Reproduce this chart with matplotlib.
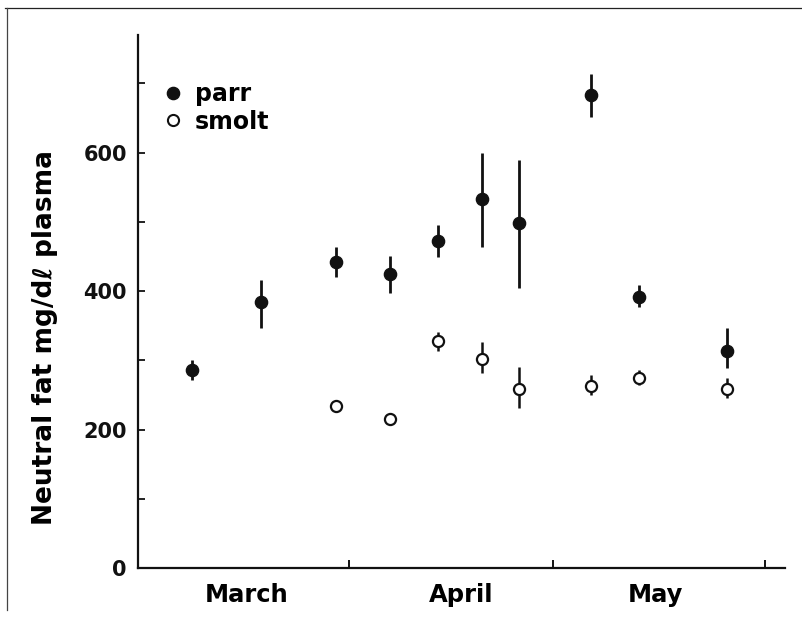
import numpy as np
import matplotlib
matplotlib.use("Agg")
import matplotlib.pyplot as plt
from matplotlib.lines import Line2D

# --- data (days counted from 1 March) ---
parr_day  = [8, 18, 29, 37, 44, 50.5, 56, 66.5, 73.5, 86.5]
parr_mean = [286, 385, 442, 425, 473, 533, 499, 684, 392, 314]
parr_lo   = [271, 347, 421, 398, 450, 464, 405, 652, 377, 289]
parr_hi   = [301, 416, 464, 451, 496, 600, 590, 713, 409, 347]

smolt_day  = [29, 37, 44, 50.5, 56, 66.5, 73.5, 86.5]
smolt_mean = [234, 215, 328, 302, 259, 263, 275, 259]
smolt_lo   = [234, 215, 314, 282, 231, 250, 265, 246]
smolt_hi   = [234, 215, 341, 327, 291, 279, 286, 275]

month_pos    = [16, 47.5, 76]
month_labels = ["March", "April", "May"]
month_bounds = [31, 61, 92]
y_major = [0, 200, 400, 600]
y_minor = [100, 300, 500, 700]

W, H = 803, 630
fig = plt.figure(figsize=(W/100, H/100), dpi=100)
ax = fig.add_axes([138/W, 1-568/H, (785-138)/W, (568-35)/H])

def yerr(mean, lo, hi):
    m = np.array(mean, float)
    return np.vstack([m-np.array(lo, float), np.array(hi, float)-m])

ax.errorbar(parr_day, parr_mean, yerr=yerr(parr_mean, parr_lo, parr_hi),
            fmt="o", color="#111111", ms=8.8, elinewidth=2.0, capsize=0, zorder=3)
ax.errorbar(smolt_day, smolt_mean, yerr=yerr(smolt_mean, smolt_lo, smolt_hi),
            fmt="o", color="#111111", mfc="white", mec="#111111", mew=1.6,
            ms=8.0, elinewidth=1.8, capsize=0, zorder=3)

ax.set_xlim(0, 95)
ax.set_ylim(0, 770)
for s in ["top", "right"]:
    ax.spines[s].set_visible(False)
for s in ["left", "bottom"]:
    ax.spines[s].set_linewidth(1.6)
    ax.spines[s].set_color("#111111")

ax.set_yticks(y_major)
ax.set_yticks(y_minor, minor=True)
ax.set_yticklabels([str(v) for v in y_major], fontsize=15, fontweight="bold")
ax.tick_params(axis="y", which="both", direction="in", length=5, width=1.3, pad=8, colors="#111111")

ax.set_xticks(month_bounds)
ax.set_xticklabels([])
ax.set_xticks(month_pos, minor=True)
ax.set_xticklabels(month_labels, minor=True, fontsize=17.5, fontweight="bold")
ax.tick_params(axis="x", which="major", direction="in", length=6, width=1.3)
ax.tick_params(axis="x", which="minor", length=0, pad=11)

ax.set_ylabel("Neutral fat mg/dℓ plasma", fontsize=19, fontweight="bold")
ax.yaxis.set_label_coords(-0.124, 0.433)

handles = [Line2D([], [], ls="none", marker="o", color="#111111", ms=8.8),
           Line2D([], [], ls="none", marker="o", mfc="white", mec="#111111", mew=1.5, ms=8.0)]
leg = ax.legend(handles, ["parr", "smolt"], loc="upper left", frameon=False,
                bbox_to_anchor=(164/W, 1-82/H), bbox_transform=fig.transFigure,
                prop={"size": 17, "weight": "bold"}, handlelength=0.8, handletextpad=0.5,
                labelspacing=0.15, borderpad=0, borderaxespad=0)

# scanned page frame
fig.add_artist(Line2D([5/W, 1], [1-8/H, 1-8/H], transform=fig.transFigure, color="#222222", lw=0.9))
fig.add_artist(Line2D([7/W, 7/W], [1-8/H, 1-610/H], transform=fig.transFigure, color="#444444", lw=0.9))

fig.savefig("out.png", dpi=100)
